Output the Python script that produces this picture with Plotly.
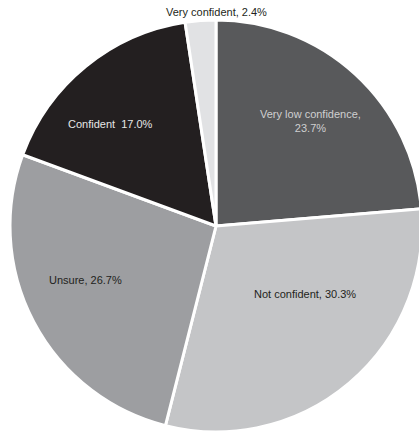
import plotly.graph_objects as go

labels = ["Very low confidence", "Not confident", "Unsure", "Confident", "Very confident"]
values = [23.7, 30.3, 26.7, 17.0, 2.4]
colors = ["#58595b", "#c4c5c7", "#9d9ea1", "#231f20", "#e1e2e4"]
label_texts = ["Very low confidence,<br>23.7%", "Not confident, 30.3%", "Unsure, 26.7%",
               "Confident  17.0%", "Very confident, 2.4%"]
label_colors = ["#cfcfd0", "#231f20", "#231f20", "#e6e6e6", "#231f20"]
# label anchor positions in pixels (x from left, y from top)
label_px = [(310, 121), (305, 294), (85, 280), (110, 124), (216, 12)]

W, H = 426, 434
cx, cy, r = 216, 226, 206

fig = go.Figure(go.Pie(
    labels=labels,
    values=values,
    sort=False,
    direction="clockwise",
    rotation=0,
    marker=dict(colors=colors, line=dict(color="white", width=3)),
    textinfo="none",
    hoverinfo="label+value",
    showlegend=False,
    domain=dict(x=[(cx - r) / W, (cx + r) / W], y=[(H - cy - r) / H, (H - cy + r) / H]),
))

for t, c, (px, py) in zip(label_texts, label_colors, label_px):
    fig.add_annotation(x=px / W, y=1 - py / H, xref="paper", yref="paper",
                       text=t, showarrow=False, xanchor="center", yanchor="middle",
                       font=dict(family="Liberation Sans, Arial, sans-serif", size=11, color=c))

fig.update_layout(width=W, height=H, margin=dict(l=0, r=0, t=0, b=0),
                  paper_bgcolor="white", plot_bgcolor="white")
fig.write_html("out.html", config={"displayModeBar": False},
               post_script="document.body.style.margin='0';document.body.style.overflow='hidden';")
